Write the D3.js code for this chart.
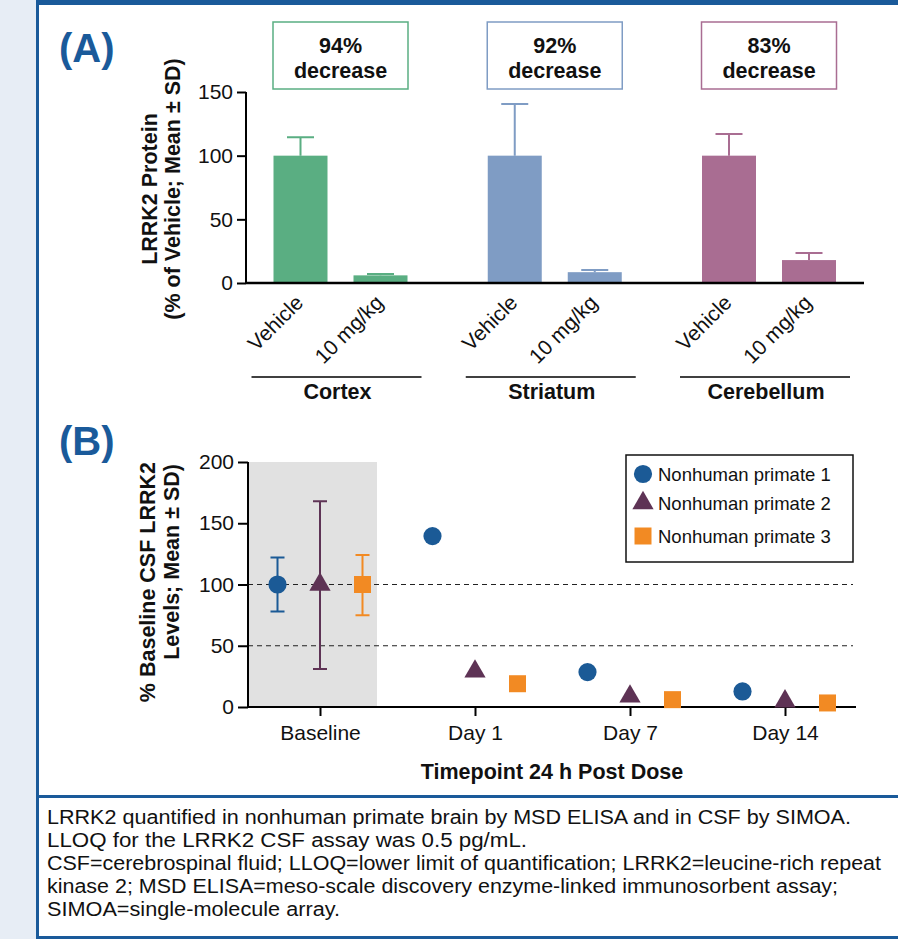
<!DOCTYPE html>
<html>
<head>
  <script src="https://d3js.org/d3.v7.min.js"></script>
  <style>
    body { margin: 0; }
    svg { display: block; font-family: "Liberation Sans", Arial, sans-serif; }
  </style>
</head>
<body>
<svg width="898" height="939"></svg>
<script>
  // ---- panel A data
  var regions = ["Cortex", "Striatum", "Cerebellum"];
  var doses = ["Vehicle", "10 mg/kg"];
  var vehicleMean = [100, 100, 100];
  var vehicleSD = [14.5, 40.5, 17];
  var doseMean = [6, 8.5, 18];
  var doseSD = [1, 1.7, 5.5];
  var decreases = ["94%", "92%", "83%"];
  var regionColors = ["#5aae82", "#7f9cc4", "#a96d92"];
  var yTicksA = [0, 50, 100, 150];

  // ---- panel B data
  var timepoints = ["Baseline", "Day 1", "Day 7", "Day 14"];
  var animals = ["Nonhuman primate 1", "Nonhuman primate 2", "Nonhuman primate 3"];
  var nhp1 = [100, 139.5, 28.5, 12.7];
  var nhp2 = [100, 29, 8.6, 4.6];
  var nhp3 = [100, 19, 6, 3.3];
  var baselineLow = [78, 31, 75];
  var baselineHigh = [122, 168, 124];
  var animalColors = ["#1b5a96", "#5e3355", "#f28a23"];
  var yTicksB = [0, 50, 100, 150, 200];

  var footnote = [
    "LRRK2 quantified in nonhuman primate brain by MSD ELISA and in CSF by SIMOA.",
    "LLOQ for the LRRK2 CSF assay was 0.5 pg/mL.",
    "CSF=cerebrospinal fluid; LLOQ=lower limit of quantification; LRRK2=leucine-rich repeat",
    "kinase 2; MSD ELISA=meso-scale discovery enzyme-linked immunosorbent assay;",
    "SIMOA=single-molecule array."
  ];
  var footnoteWidths = [804, 480, 834, 791, 293];

  var blue = "#1a5a9a";
  var ink = "#111";
  var svg = d3.select("svg");

  // page frame
  svg.append("rect").attr("width", 898).attr("height", 939).attr("fill", "#e7edf5");
  svg.append("rect").attr("x", 37).attr("width", 861).attr("height", 939).attr("fill", "#fff");
  svg.append("rect").attr("x", 36).attr("y", 0).attr("width", 862).attr("height", 5).attr("fill", blue);
  svg.append("rect").attr("x", 36).attr("y", 0).attr("width", 3).attr("height", 939).attr("fill", blue);
  svg.append("rect").attr("x", 36).attr("y", 795).attr("width", 862).attr("height", 3).attr("fill", blue);
  svg.append("rect").attr("x", 36).attr("y", 936).attr("width", 862).attr("height", 3).attr("fill", blue);

  svg.append("text").attr("x", 59).attr("y", 62).attr("font-size", 40).attr("font-weight", "bold")
    .attr("fill", blue).text("(A)");
  svg.append("text").attr("x", 59).attr("y", 455).attr("font-size", 40).attr("font-weight", "bold")
    .attr("fill", blue).text("(B)");

  // ================= panel A
  var yA = d3.scaleLinear().domain([0, 150]).range([283, 92]);
  var xG = d3.scalePoint().domain(regions).range([340.5, 769]);
  var xD = d3.scaleBand().domain(doses).range([-67, 67]).paddingInner(0.325).paddingOuter(0);

  var gA = svg.append("g");
  gA.append("g").attr("transform", "translate(246,0)")
    .call(d3.axisLeft(yA).tickValues(yTicksA).tickSize(9).tickPadding(4))
    .call(function(g) {
      g.select(".domain").attr("stroke-width", 2).attr("d", "M0," + yA(150) + "V" + yA(0));
      g.selectAll(".tick line").attr("stroke-width", 2);
      g.selectAll("text").attr("font-size", 21).attr("font-family", null).attr("fill", ink);
    });

  var bars = [];
  regions.forEach(function(r, i) {
    bars.push({region: r, dose: doses[0], mean: vehicleMean[i], sd: vehicleSD[i], color: regionColors[i]});
    bars.push({region: r, dose: doses[1], mean: doseMean[i], sd: doseSD[i], color: regionColors[i]});
  });

  // error bars (upper only)
  gA.selectAll(".err").data(bars).join("path")
    .attr("fill", "none").attr("stroke", function(d) { return d.color; }).attr("stroke-width", 2)
    .attr("d", function(d) {
      var cx = xG(d.region) + xD(d.dose) + xD.bandwidth() / 2;
      return "M" + cx + "," + yA(d.mean) + "V" + yA(d.mean + d.sd) +
        "M" + (cx - 13.5) + "," + yA(d.mean + d.sd) + "H" + (cx + 13.5);
    });

  gA.selectAll(".bar").data(bars).join("rect")
    .attr("x", function(d) { return xG(d.region) + xD(d.dose); })
    .attr("y", function(d) { return yA(d.mean); })
    .attr("width", xD.bandwidth())
    .attr("height", function(d) { return yA(0) - yA(d.mean); })
    .attr("fill", function(d) { return d.color; });

  gA.append("path").attr("d", "M246," + yA(0) + "H864").attr("stroke", "#000").attr("stroke-width", 2.5);

  // rotated dose labels
  gA.selectAll(".dl").data(bars).join("text")
    .attr("text-anchor", "end").attr("font-size", 21).attr("fill", ink)
    .attr("transform", function(d) {
      var cx = xG(d.region) + xD(d.dose) + xD.bandwidth() / 2;
      return "translate(" + (cx + 4) + ",304) rotate(-45)";
    })
    .text(function(d) { return d.dose; });

  // region brackets and decrease boxes
  regions.forEach(function(r, i) {
    var c = xG(r);
    gA.append("path").attr("d", "M" + (c - 89) + ",377H" + (c + 81)).attr("stroke", "#000").attr("stroke-width", 1.5);
    gA.append("text").attr("x", c - 3).attr("y", 398.5).attr("text-anchor", "middle")
      .attr("font-size", 21.5).attr("font-weight", "bold").attr("fill", ink).text(r);
    gA.append("rect").attr("x", c - 67.5).attr("y", 22).attr("width", 135).attr("height", 67)
      .attr("fill", "none").attr("stroke", regionColors[i]).attr("stroke-width", 1.5);
    gA.append("text").attr("x", c).attr("y", 53).attr("text-anchor", "middle")
      .attr("font-size", 21.5).attr("font-weight", "bold").attr("fill", ink).text(decreases[i]);
    gA.append("text").attr("x", c).attr("y", 78).attr("text-anchor", "middle")
      .attr("font-size", 21.5).attr("font-weight", "bold").attr("fill", ink).text("decrease");
  });

  var titleA = gA.append("text").attr("transform", "translate(0,189) rotate(-90)")
    .attr("text-anchor", "middle").attr("font-size", 21.5).attr("font-weight", "bold").attr("fill", ink);
  titleA.append("tspan").attr("x", 0).attr("y", 157).text("LRRK2 Protein");
  titleA.append("tspan").attr("x", 0).attr("y", 180).text("(% of Vehicle; Mean ± SD)");

  // ================= panel B
  var yB = d3.scaleLinear().domain([0, 200]).range([707, 462]);
  var xB = d3.scalePoint().domain(timepoints).range([320, 785]);
  var xA = d3.scalePoint().domain(animals).range([-42.5, 42.5]);

  var gB = svg.append("g");
  gB.append("rect").attr("x", 249).attr("y", yB(200)).attr("width", 128).attr("height", yB(0) - yB(200))
    .attr("fill", "#e1e1e1");

  [100, 50].forEach(function(v) {
    gB.append("path").attr("d", "M248," + yB(v) + "H853").attr("stroke", "#222")
      .attr("stroke-width", 1.2).attr("stroke-dasharray", "5,4");
  });

  gB.append("g").attr("transform", "translate(248,0)")
    .call(d3.axisLeft(yB).tickValues(yTicksB).tickSize(10).tickPadding(4))
    .call(function(g) {
      g.select(".domain").attr("stroke-width", 2).attr("d", "M0," + yB(200) + "V" + yB(0));
      g.selectAll(".tick line").attr("stroke-width", 2);
      g.selectAll("text").attr("font-size", 21).attr("font-family", null).attr("fill", ink);
    });

  gB.append("g").attr("transform", "translate(0," + yB(0) + ")")
    .call(d3.axisBottom(xB).tickSize(9).tickPadding(9))
    .call(function(g) {
      g.select(".domain").attr("stroke-width", 2).attr("d", "M248,0H856");
      g.selectAll(".tick line").attr("stroke-width", 2);
      g.selectAll("text").attr("font-size", 21).attr("font-family", null).attr("fill", ink);
    });

  var series = [nhp1, nhp2, nhp3];
  var shapes = [d3.symbolCircle, d3.symbolTriangle, d3.symbolSquare];
  var sizes = [260, 195, 289];
  var points = [];
  animals.forEach(function(a, i) {
    timepoints.forEach(function(t, j) {
      points.push({animal: a, time: t, value: series[i][j], k: i});
    });
  });

  // baseline SD bars
  gB.selectAll(".sd").data(animals).join("path")
    .attr("fill", "none").attr("stroke-width", 2)
    .attr("stroke", function(d, i) { return animalColors[i]; })
    .attr("d", function(d, i) {
      var cx = xB("Baseline") + xA(d), lo = yB(baselineLow[i]), hi = yB(baselineHigh[i]);
      return "M" + cx + "," + lo + "V" + hi + "M" + (cx - 7) + "," + lo + "H" + (cx + 7) +
        "M" + (cx - 7) + "," + hi + "H" + (cx + 7);
    });

  gB.selectAll(".pt").data(points).join("path")
    .attr("transform", function(d) { return "translate(" + (xB(d.time) + xA(d.animal)) + "," + yB(d.value) + ")"; })
    .attr("d", function(d) { return d3.symbol(shapes[d.k], sizes[d.k])(); })
    .attr("fill", function(d) { return animalColors[d.k]; });

  gB.append("text").attr("x", 552).attr("y", 779).attr("text-anchor", "middle")
    .attr("font-size", 21.5).attr("font-weight", "bold").attr("fill", ink).text("Timepoint 24 h Post Dose");

  // y title: both lines end at the top of the axis
  var titleB = gB.append("text").attr("transform", "translate(0,462) rotate(-90)")
    .attr("text-anchor", "end").attr("font-size", 21.5).attr("font-weight", "bold").attr("fill", ink);
  titleB.append("tspan").attr("x", 0).attr("y", 155).text("% Baseline CSF LRRK2");
  titleB.append("tspan").attr("x", -2).attr("y", 179).text("Levels; Mean ± SD)");

  // legend
  var leg = gB.append("g");
  leg.append("rect").attr("x", 626).attr("y", 455).attr("width", 227).attr("height", 107)
    .attr("fill", "#fff").attr("stroke", ink).attr("stroke-width", 1.5);
  var legY = [474, 503, 536];
  animals.forEach(function(a, i) {
    leg.append("path").attr("transform", "translate(643," + legY[i] + ")")
      .attr("d", d3.symbol(shapes[i], sizes[i])()).attr("fill", animalColors[i]);
    leg.append("text").attr("x", 658).attr("y", legY[i] + 6.5).attr("font-size", 18.5)
      .attr("fill", ink).text(a);
  });

  // footnote
  svg.selectAll(".fn").data(footnote).join("text")
    .attr("x", 47).attr("y", function(d, i) { return 824 + i * 23; })
    .attr("font-size", 20).attr("fill", ink)
    .attr("textLength", function(d, i) { return footnoteWidths[i]; })
    .attr("lengthAdjust", "spacingAndGlyphs")
    .text(function(d) { return d; });
</script>
</body>
</html>
